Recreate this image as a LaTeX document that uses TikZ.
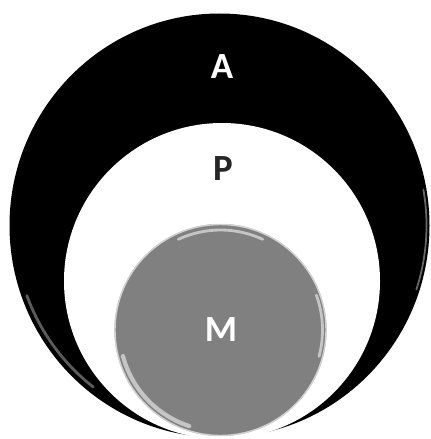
\documentclass[tikz,border=0pt]{standalone}
\usepackage{fontspec}
\setmainfont{Carlito}
\tikzset{
  etiqueta/.style={font=\bfseries\fontsize{21}{25}\selectfont, inner sep=0pt},
  brillo/.style={line cap=round, line width=1.6pt, opacity=0.55},
}
\begin{document}
\begin{tikzpicture}[x=0.02cm, y=-0.02cm]
  \useasboundingbox (0,0) rectangle (430,439);
  % circulo exterior
  \fill[black] (219.5,225.5) ellipse [x radius=210, y radius=212];
  \draw[brillo, gray!70] (219.5,225.5) ++(128:205) arc [start angle=128, end angle=160, radius=205];
  \draw[brillo, gray!50, line width=1pt] (219.5,225.5) ++(-10:207) arc [start angle=-10, end angle=18, radius=207];
  % circulo medio
  \fill[white] (222,281) circle [radius=158];
  % circulo interior
  \fill[gray] (220.5,330) circle [radius=106];
  \draw[gray!35, line width=0.8pt] (220.5,330) circle [radius=105.5];
  \draw[brillo, white] (220.5,330) ++(245:100) arc [start angle=245, end angle=295, radius=100];
  \draw[brillo, white, line width=2.4pt] (220.5,330) ++(108:101) arc [start angle=108, end angle=165, radius=101];
  \draw[brillo, white] (220.5,330) ++(-20:102) arc [start angle=-20, end angle=15, radius=102];
  % etiquetas
  \node[etiqueta, text=white] (A) at (222,66.5) {A};
  \node[etiqueta, text=black!85] (P) at (223,169) {P};
  \node[etiqueta, text=white] (M) at (221,330) {M};
\end{tikzpicture}
\end{document}
